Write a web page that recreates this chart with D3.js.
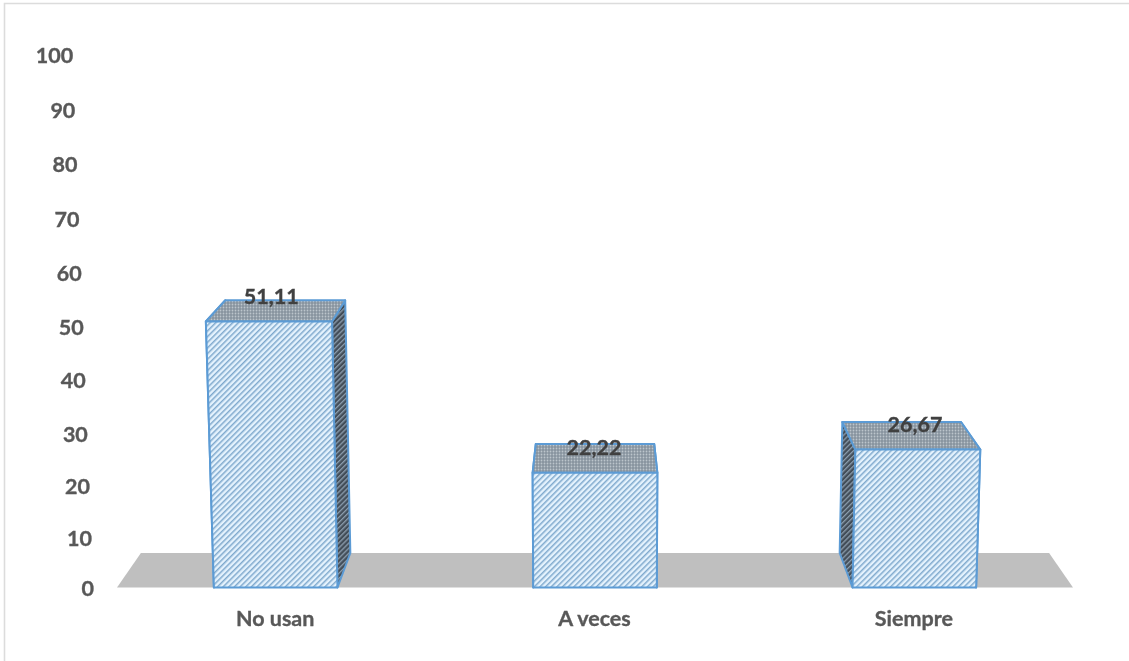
<!DOCTYPE html>
<html>
<head>
<meta charset="utf-8">
<script src="https://cdn.jsdelivr.net/npm/d3@7"></script>
<style>
  html, body { margin: 0; padding: 0; background: #fff; }
  svg { display: block; }
  text { font-family: Lato, "Open Sans", sans-serif; font-weight: 700; font-size: 21.5px; stroke-width: 0.35px; }
</style>
</head>
<body>
<svg width="1129" height="661"></svg>
<script>
const categories = ["No usan", "A veces", "Siempre"];
const values = [51.11, 22.22, 26.67];
const valueLabels = ["51,11", "22,22", "26,67"];
const tickValues = [0, 10, 20, 30, 40, 50, 60, 70, 80, 90, 100];

const svg = d3.select("svg");
const defs = svg.append("defs");

// the screenshot is a bit soft, same for the marks here
defs.append("filter").attr("id", "soft").append("feGaussianBlur").attr("stdDeviation", 0.4);

// fake excel 3d: everything leans away from the middle of the chart
const centerX = 595, floorFront = 587.5, floorBack = 553, depth = 0.95, lean = 0.000079;

const x = d3.scaleBand().domain(categories).range([116, 1074]).paddingInner(0.613).paddingOuter(0.3065);
const barHeight = d3.scalePow().exponent(1.01).domain([0, 100]).range([0, 524]);
const yAxisScale = d3.scalePow().exponent(1.03).domain([0, 100]).range([589, 56]);

const project = (px, h, back) => {
  const s = (1 + lean * h) * (back ? depth : 1);
  return [centerX + (px - centerX) * s, back ? floorBack - h * depth : floorFront - h];
};

// hatch fills
const front = defs.append("pattern").attr("id", "hatchFront").attr("patternUnits", "userSpaceOnUse")
  .attr("width", 4).attr("height", 4).attr("patternTransform", "rotate(45)");
front.append("rect").attr("width", 4).attr("height", 4).attr("fill", "#e4f2fd");
front.append("rect").attr("width", 1.5).attr("height", 4).attr("fill", "#7fa9cd");

const side = defs.append("pattern").attr("id", "hatchSide").attr("patternUnits", "userSpaceOnUse")
  .attr("width", 3.6).attr("height", 3.6).attr("patternTransform", "rotate(45)");
side.append("rect").attr("width", 3.6).attr("height", 3.6).attr("fill", "#434e59");
side.append("rect").attr("width", 1.3).attr("height", 3.6).attr("fill", "#8b9dad");

const top_ = defs.append("pattern").attr("id", "dotsTop").attr("patternUnits", "userSpaceOnUse")
  .attr("width", 3).attr("height", 3);
top_.append("rect").attr("width", 3).attr("height", 3).attr("fill", "#87939e");
top_.append("circle").attr("cx", 1.5).attr("cy", 1.5).attr("r", 0.9).attr("fill", "#bcc5cc");

// only the top and left edges of the frame show
svg.append("path").attr("d", d3.line()([[4.5, 661], [4.5, 3.5], [1129, 3.5]]))
  .attr("fill", "none").attr("stroke", "#dcdcdc").attr("stroke-width", 1.6);

const plot = svg.append("g").attr("filter", "url(#soft)");

// floor
const floorPts = [project(117, 0, false), project(1073, 0, false), project(1073, 0, true), project(117, 0, true)];
plot.append("polygon").attr("points", floorPts.join(" ")).attr("fill", "#bfbfbf");

// y axis, each tick pushed sideways with the perspective
const yAxis = plot.append("g").call(d3.axisLeft(yAxisScale).tickValues(tickValues).tickSize(0).tickPadding(0));
yAxis.select(".domain").remove();
yAxis.selectAll(".tick")
  .attr("transform", d => `translate(${project(94, barHeight(d), false)[0]},${yAxisScale(d)})`);
yAxis.selectAll("text").attr("fill", "#595959").attr("stroke", "#595959")
  .attr("font-size", null).attr("font-family", null);

// bars
const bars = plot.selectAll("g.bar").data(categories.map((c, i) => ({ c, v: values[i], label: valueLabels[i] })))
  .enter().append("g").attr("class", "bar");

const face = (sel, fill, pts) => sel.append("polygon")
  .attr("points", d => pts(d).join(" "))
  .attr("fill", fill).attr("stroke", "#5b9bd5").attr("stroke-width", 2).attr("stroke-linejoin", "round");

const corners = (d) => {
  const l = x(d.c), r = l + x.bandwidth(), h = barHeight(d.v);
  return { l, r, h };
};

face(bars, "url(#hatchSide)", d => {
  const { l, h } = corners(d);
  return [project(l, 0, false), project(l, h, false), project(l, h, true), project(l, 0, true)];
});
face(bars, "url(#hatchSide)", d => {
  const { r, h } = corners(d);
  return [project(r, 0, false), project(r, h, false), project(r, h, true), project(r, 0, true)];
});
face(bars, "url(#dotsTop)", d => {
  const { l, r, h } = corners(d);
  return [project(l, h, false), project(r, h, false), project(r, h, true), project(l, h, true)];
});
face(bars, "url(#hatchFront)", d => {
  const { l, r, h } = corners(d);
  return [project(l, 0, false), project(r, 0, false), project(r, h, false), project(l, h, false)];
});

// value labels
bars.append("text")
  .attr("x", d => project(x(d.c) + x.bandwidth() / 2, barHeight(d.v) / 2, false)[0] - 1)
  .attr("y", d => floorFront - barHeight(d.v) - 25)
  .attr("dy", "0.35em").attr("text-anchor", "middle")
  .attr("fill", "#404040").attr("stroke", "#404040")
  .text(d => d.label);

// category labels
plot.selectAll("text.cat").data(categories).enter().append("text").attr("class", "cat")
  .attr("x", d => x(d) + x.bandwidth() / 2 - 0.5).attr("y", 618.5)
  .attr("dy", "0.35em").attr("text-anchor", "middle")
  .attr("fill", "#595959").attr("stroke", "#595959")
  .text(d => d);
</script>
</body>
</html>
